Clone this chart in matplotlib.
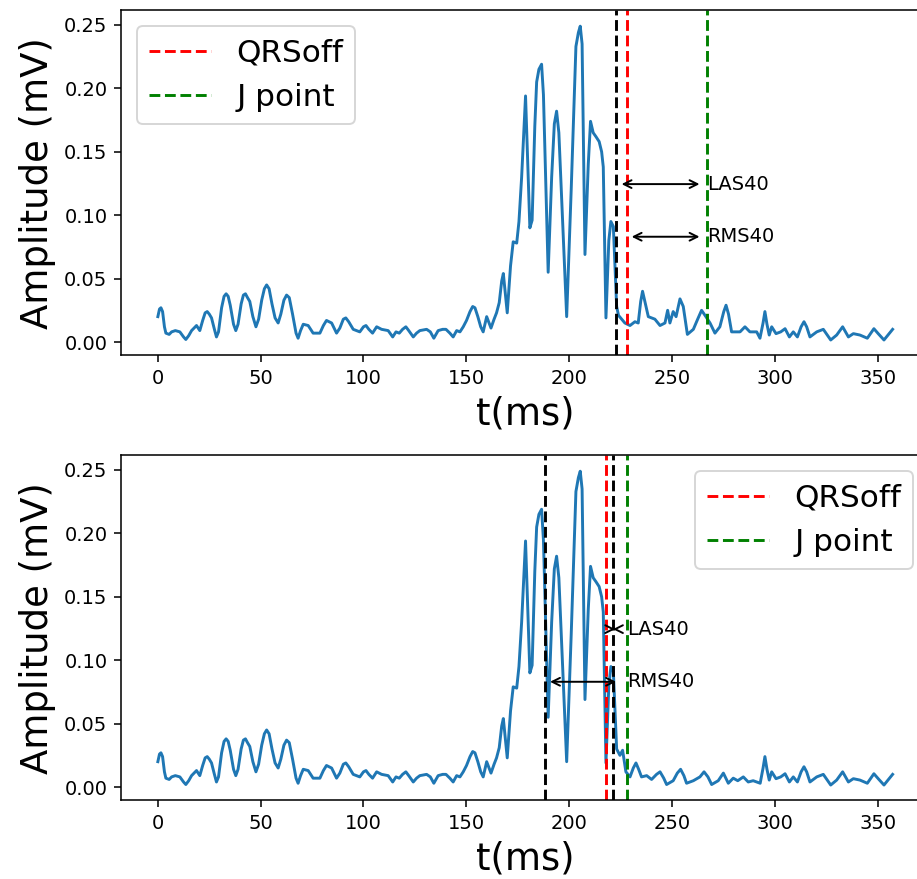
import matplotlib
matplotlib.use('Agg')
import matplotlib.pyplot as plt
import numpy as np

# signal: time (ms), amplitude (mV)
# part shared by both panels (start .. end of QRS)
t_qrs = [0, 0.8, 1.5, 2.3, 3.2, 3.9, 5.5, 6.7, 8.5, 10.7, 12.5, 13.6, 15, 16.4, 18.8, 20.4,
         21.8, 23, 24, 25, 26.1, 27.5, 28.5, 29.5, 31, 32.2, 33.2, 34.2, 35.2, 36.8, 37.9,
         39, 40.5, 41.6, 42.6, 43.6, 44.7, 46.2, 47.7, 49, 50.5, 51.8, 52.9, 54.1, 55.5, 57,
         58.5, 59.8, 61.3, 62.6, 63.9, 65.5, 67.2, 68.2, 69.4, 70.7, 73.1, 75.5, 78.8, 80.5,
         82, 84.5, 86.9, 88.5, 90.2, 91.4, 92.8, 95, 98.2, 100, 101.2, 102.6, 104.4, 106.4,
         108.8, 112, 114.2, 115.8, 117.4, 119, 120.6, 122, 124.2, 125.8, 127.4, 130.7, 132.5,
         134.2, 136.3, 138.5, 140.1, 142, 143.6, 145.3, 146.9, 148.5, 150.1, 151.8, 153.1,
         154.2, 155.6, 157, 158.2, 159.9, 162, 163.5, 164.7, 166, 167.2, 168, 169.9, 171.5,
         172.8, 174.5, 175.6, 176.9, 178.8, 180.9, 182, 183.3, 184.2, 185.3, 186.6, 187.5,
         189.8, 191.5, 192.8, 193.9, 195, 198.8, 201, 203.3, 204.5, 205.4, 206.3, 207.7,
         209.3, 210.4, 211.7, 213, 214.6, 215.8, 216.6, 217.9, 219.3, 220.3, 221.5]
amp_qrs = [0.020, 0.026, 0.027, 0.024, 0.012, 0.007, 0.006, 0.008, 0.009, 0.008, 0.004,
           0.002, 0.005, 0.009, 0.013, 0.009, 0.017, 0.023, 0.024, 0.022, 0.019, 0.010,
           0.004, 0.008, 0.027, 0.036, 0.038, 0.036, 0.029, 0.014, 0.009, 0.014, 0.030,
           0.037, 0.038, 0.035, 0.032, 0.020, 0.012, 0.018, 0.033, 0.042, 0.045, 0.042,
           0.030, 0.019, 0.015, 0.022, 0.033, 0.037, 0.035, 0.022, 0.007, 0.003, 0.009,
           0.014, 0.013, 0.007, 0.007, 0.013, 0.017, 0.015, 0.007, 0.011, 0.018, 0.019,
           0.016, 0.010, 0.008, 0.012, 0.013, 0.010, 0.007, 0.012, 0.010, 0.009, 0.004,
           0.008, 0.007, 0.010, 0.012, 0.009, 0.004, 0.007, 0.009, 0.010, 0.008, 0.003,
           0.009, 0.010, 0.010, 0.007, 0.004, 0.009, 0.008, 0.012, 0.017, 0.024, 0.028,
           0.027, 0.020, 0.012, 0.008, 0.020, 0.011, 0.018, 0.023, 0.031, 0.048, 0.054,
           0.023, 0.060, 0.079, 0.078, 0.095, 0.130, 0.194, 0.090, 0.096, 0.170, 0.205,
           0.215, 0.219, 0.195, 0.055, 0.130, 0.172, 0.182, 0.165, 0.020, 0.120, 0.233,
           0.244, 0.249, 0.235, 0.069, 0.140, 0.174, 0.165, 0.162, 0.158, 0.150, 0.138,
           0.019, 0.080, 0.095, 0.091]

# after the QRS the two panels differ
t_tail_top = [223.1, 224.0, 227.1, 229.6, 232.0, 233.6, 234.8, 235.7, 236.8, 238.5, 241.7,
              244.2, 246.6, 247.9, 249.0, 250.6, 252.0, 253.9, 255.5, 257.5, 260.4, 262.5,
              264.4, 266.5, 268.5, 270.9, 273.3, 275.2, 276.3, 277.5, 279.0, 283.1, 285.5,
              287.9, 291.2, 292.8]
amp_tail_top = [0.028, 0.021, 0.015, 0.013, 0.016, 0.015, 0.032, 0.040, 0.032, 0.020, 0.018,
                0.013, 0.015, 0.025, 0.015, 0.024, 0.020, 0.034, 0.028, 0.006, 0.010, 0.018,
                0.025, 0.020, 0.015, 0.007, 0.012, 0.024, 0.029, 0.022, 0.008, 0.008, 0.012,
                0.008, 0.008, 0.003]
t_tail_bot = [223.1, 224.7, 226.0, 227.6, 229.6, 231.2, 232.5, 233.8, 235.2, 237.7, 240.1,
              242.5, 244.2, 246.0, 247.4, 250.6, 252.6, 254.2, 255.8, 257.1, 260.4, 263.6,
              265.6, 267.5, 269.3, 272.5, 275.0, 277.4, 279.8, 282.0, 284.7, 287.1, 289.5,
              292.9]
amp_tail_bot = [0.030, 0.025, 0.029, 0.012, 0.008, 0.015, 0.019, 0.014, 0.008, 0.009, 0.006,
                0.010, 0.012, 0.007, 0.002, 0.005, 0.011, 0.014, 0.009, 0.003, 0.005, 0.008,
                0.012, 0.008, 0.002, 0.005, 0.011, 0.003, 0.007, 0.005, 0.008, 0.004, 0.005,
                0.003]

# shared end of the recording
t_end = [294.3, 295.2, 296.2, 297.3, 298.5, 300.6, 302.9, 305.0, 307.1, 309.0, 311.0, 312.8,
         314.2, 315.5, 317.1, 320.4, 323.6, 327.2, 330.1, 333.0, 335.8, 338.2, 341.4, 345.0,
         348.2, 350.3, 353.1, 357.3]
amp_end = [0.015, 0.024, 0.014, 0.0055, 0.012, 0.0066, 0.008, 0.0105, 0.004, 0.008, 0.004,
           0.012, 0.016, 0.012, 0.004, 0.008, 0.010, 0.0016, 0.0055, 0.012, 0.004, 0.0066,
           0.0055, 0.003, 0.0105, 0.0066, 0.0016, 0.010]

# markers (ms), one entry per panel
qrs_off = [228.0, 217.7]
j_point = [267.2, 228.2]
black_lines = [[222.8], [188.2, 221.4]]
las40_span = [(225.5, 263.4), (221.3, 222.4)]
rms40_span = [(230.4, 263.4), (190.7, 222.8)]
legend_loc = ['upper left', 'upper right']

tails = [(t_tail_top, amp_tail_top), (t_tail_bot, amp_tail_bot)]

dpi = 140
fig = plt.figure(figsize=(917 / dpi, 879 / dpi), dpi=dpi)
rects = [[0.132, 0.5959, 0.8811, 0.3922], [0.132, 0.0896, 0.8811, 0.3922]]

for i in range(2):
    ax = fig.add_axes(rects[i])
    t = np.array(t_qrs + tails[i][0] + t_end)
    amp = np.array(amp_qrs + tails[i][1] + amp_end)
    ax.plot(t, amp)
    amax = amp.max()

    for xb in black_lines[i]:
        ax.axvline(xb, color='k', ls='--')
    ax.axvline(qrs_off[i], color='r', ls='--', label='QRSoff')
    ax.axvline(j_point[i], color='g', ls='--', label='J point')

    # LAS40 at half the peak, RMS40 at a third
    a0, a1 = las40_span[i]
    ax.annotate('', xy=(a1, amax / 2), xytext=(a0, amax / 2),
                arrowprops=dict(arrowstyle='<->', color='k', shrinkA=0, shrinkB=0))
    ax.text(j_point[i], amax / 2, 'LAS40', va='center', ha='left')
    r0, r1 = rms40_span[i]
    ax.annotate('', xy=(r1, amax / 3), xytext=(r0, amax / 3),
                arrowprops=dict(arrowstyle='<->', color='k', shrinkA=0, shrinkB=0))
    ax.text(j_point[i], amax / 3, 'RMS40', va='center', ha='left')

    ax.set_xlim(-17.9, 375)
    ax.set_ylim(-0.0104, 0.2614)
    ax.set_xlabel('t(ms)', fontsize=19)
    ax.set_ylabel('Amplitude (mV)', fontsize=19)
    ax.legend(loc=legend_loc[i], fontsize=16)

fig.savefig('out.png', dpi=dpi)
